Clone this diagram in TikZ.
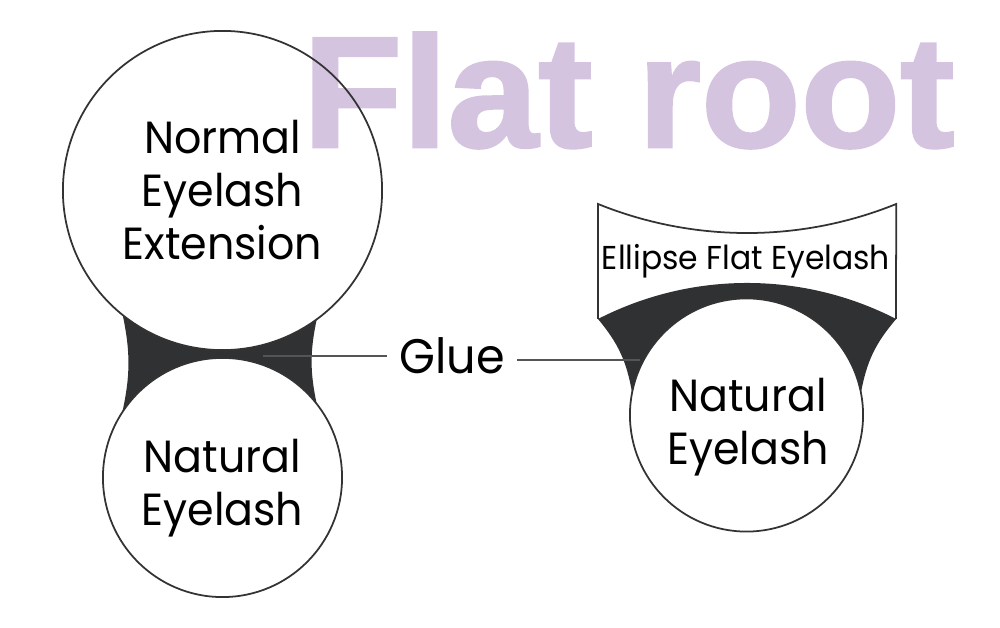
\documentclass[tikz,border=0pt]{standalone}
\usepackage{fontspec}
\setmainfont{Poppins}[FakeStretch=0.95]
\newfontfamily\titlefont{Liberation Sans}[BoldFeatures={FakeBold=1.6}]
\usetikzlibrary{calc}
\definecolor{gluecol}{HTML}{2F3132}
\definecolor{titlecol}{HTML}{D4C4E0}
\definecolor{linecol}{HTML}{333333}
\definecolor{conncol}{HTML}{555555}
\begin{document}
\begin{tikzpicture}[x=0.01cm,y=0.01cm,
  ring/.style={circle, draw=linecol, line width=0.5pt, inner sep=0pt},
  lbl/.style={align=center, font=\fontsize{12.8pt}{15.1pt}\selectfont, text depth=0pt, inner sep=0pt},
  gluefill/.style={fill=gluecol},
  boxline/.style={draw=linecol, line width=0.5pt},
  glueline/.style={draw=conncol, line width=0.6pt}]
\useasboundingbox (0,0) rectangle (1000,627);

% left glue
\coordinate (TL) at ($(222.5,436.5)+(231.3:1.595cm)$);
\coordinate (BR) at ($(222.5,149.5)+(38:1.195cm)$);
\path[gluefill] (TL) arc[start angle=231.3, end angle=306.2, radius=1.595cm]
  to[bend right=12] (BR)
  arc[start angle=38, end angle=146.9, radius=1.195cm]
  to[bend right=12] (TL) -- cycle;

% right flat eyelash box and band
\coordinate (EL) at (598,308);
\coordinate (ER) at (896,308);
\coordinate (LT) at ($(746.5,212)+(169:1.165cm)$);
\coordinate (RT) at ($(746.5,212)+(11:1.165cm)$);
\draw[boxline] (EL) -- (598,423) arc[start angle=247.97, end angle=292.03, radius=3.973cm] -- (ER);
\path[gluefill] (LT) to[bend right=15] (EL)
  arc[start angle=117.17, end angle=62.83, radius=3.263cm]
  to[bend right=15] (RT)
  arc[start angle=11, end angle=169, radius=1.165cm] -- cycle;

% circles
\node[ring, fill=white, minimum size=2.33cm] (nat) at (746.5,212) {};
\node[ring, fill=white, minimum size=2.39cm] (small) at (222.5,149.5) {};

% title
\node[anchor=base west, inner sep=0pt, xscale=1.03, text=titlecol, font=\titlefont\bfseries\fontsize{45pt}{50pt}\selectfont] (title) at (302,480) {Flat root};

\node[ring, minimum size=3.19cm] (big) at (222.5,436.5) {};

% labels
\node[lbl] (bigtxt) at (222.5,437.5) {Normal\\Eyelash\\Extension};
\node[lbl] (smalltxt) at (222.5,145) {Natural\\Eyelash};
\node[lbl] (nattxt) at (748,205.5) {Natural\\Eyelash};
\node[lbl, font=\fontsize{9.4pt}{11pt}\selectfont] (ellipse) at (746,370.5) {Ellipse Flat Eyelash};
\node[lbl, font=\fontsize{13.8pt}{16pt}\selectfont, minimum width=1.28cm] (glue) at (452,271.5) {Glue};

% glue connectors
\coordinate (gl) at (263,271);
\coordinate (gr) at (640,267);
\draw[glueline] (gl) -- (gl -| glue.west);
\draw[glueline] (gr) -- (gr -| glue.east);
\end{tikzpicture}
\end{document}
